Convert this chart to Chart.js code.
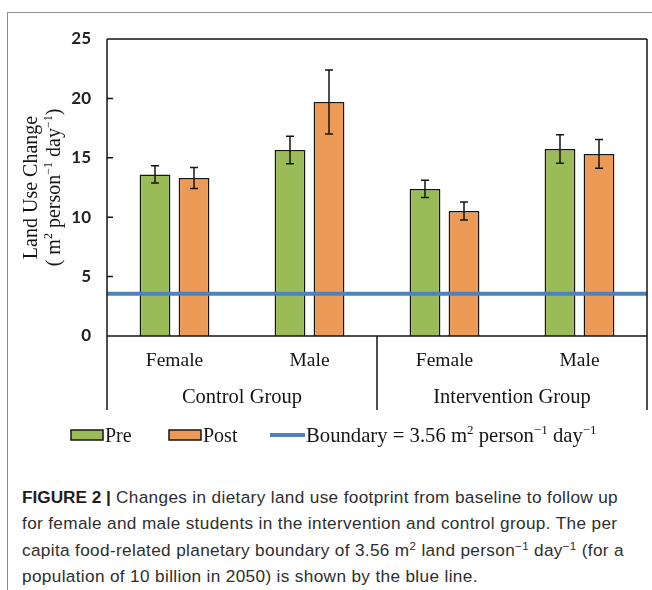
<!DOCTYPE html>
<html>
<head>
<meta charset="utf-8">
<script src="https://cdn.jsdelivr.net/npm/chart.js@4/dist/chart.umd.min.js"></script>
<style>
  html, body { margin: 0; padding: 0; background: #fff; }
  body { width: 652px; height: 590px; position: relative; overflow: hidden; }
  #frame { position: absolute; left: 7px; top: 12px; width: 660px; height: 600px;
           border-top: 1.5px solid #8c8c8c; border-left: 1.5px solid #8c8c8c; }
  #chart { position: absolute; left: 0; top: 0; }
  #caption { position: absolute; left: 22px; top: 484px; font-family: "Liberation Sans", Arial, sans-serif;
             font-weight: 400; font-size: 17.2px; letter-spacing: 0.35px; line-height: 26.3px;
             color: #2e2e2e; white-space: nowrap; }
  #caption b { font-weight: 700; color: #1e1e1e; letter-spacing: 0; }
  #caption sup { font-size: 11.5px; line-height: 0; vertical-align: 6px; }
</style>
</head>
<body>
<div id="frame"></div>
<canvas id="chart" width="652" height="450"></canvas>
<div id="caption"><b>FIGURE 2 |</b> Changes in dietary land use footprint from baseline to follow up<br>for female and male students in the intervention and control group. The per<br>capita food-related planetary boundary of 3.56 m<sup>2</sup> land person<sup>−1</sup> day<sup>−1</sup> (for a<br>population of 10 billion in 2050) is shown by the blue line.</div>
<script>
// Land use footprint (m² person⁻¹ day⁻¹) by sex within each study group
const categories = ['Female', 'Male', 'Female', 'Male'];
const groups = ['Control Group', 'Intervention Group'];
const preValues  = [13.6, 15.65, 12.38, 15.75];
const postValues = [13.3, 19.7, 10.52, 15.33];
const preErrors  = [0.73, 1.16, 0.72, 1.2];
const postErrors = [0.88, 2.7, 0.76, 1.22];
const boundary = 3.56;
const boundaryLabel = 'Boundary = 3.56 m² person⁻¹ day⁻¹';
const yTitle = ['Land Use Change', '( m² person⁻¹ day⁻¹)'];
const yMin = 0, yMax = 25, yStep = 5;

const SERIF = '"Liberation Serif", "DejaVu Serif", serif';
const INK = '#151515';
const BOUNDARY_COLOR = '#4f81bd';

// Split a string into normal / superscript runs (², ¹, ⁻)
const SUP = { '²': '2', '¹': '1', '⁻': '−' };
function runs(str) {
  const out = [];
  for (const ch of str) {
    const sup = ch in SUP;
    const t = sup ? SUP[ch] : ch;
    if (out.length && out[out.length - 1].sup === sup) out[out.length - 1].t += t;
    else out.push({ t, sup });
  }
  return out;
}
function drawRich(ctx, str, x, y, size, align) {
  const parts = runs(str);
  const big = size + 'px ' + SERIF, small = Math.round(size * 0.62) + 'px ' + SERIF;
  let w = 0;
  parts.forEach(p => { ctx.font = p.sup ? small : big; p.w = ctx.measureText(p.t).width; w += p.w; });
  let cx = align === 'center' ? x - w / 2 : x;
  ctx.textAlign = 'left';
  ctx.textBaseline = 'alphabetic';
  parts.forEach(p => {
    ctx.font = p.sup ? small : big;
    ctx.fillText(p.t, cx, p.sup ? y - size * 0.38 : y);
    cx += p.w;
  });
  return w;
}

const decor = {
  id: 'decor',
  afterDatasetsDraw(chart) {
    const { ctx, chartArea: a, scales: { y } } = chart;
    ctx.save();
    // planetary boundary reference line across the plot
    const by = y.getPixelForValue(boundary);
    ctx.strokeStyle = BOUNDARY_COLOR;
    ctx.lineWidth = 4;
    ctx.beginPath(); ctx.moveTo(a.left, by); ctx.lineTo(a.right, by); ctx.stroke();

    // error bars
    ctx.strokeStyle = INK;
    ctx.lineWidth = 1.5;
    chart.data.datasets.forEach((ds, i) => {
      if (!ds.errors) return;
      chart.getDatasetMeta(i).data.forEach((bar, j) => {
        const v = ds.data[j], e = ds.errors[j];
        const yt = y.getPixelForValue(v + e), yb = y.getPixelForValue(v - e);
        ctx.beginPath();
        ctx.moveTo(bar.x, yt); ctx.lineTo(bar.x, yb);
        ctx.moveTo(bar.x - 4, yt); ctx.lineTo(bar.x + 4, yt);
        ctx.moveTo(bar.x - 4, yb); ctx.lineTo(bar.x + 4, yb);
        ctx.stroke();
      });
    });
    ctx.restore();
  },
  afterDraw(chart) {
    const { ctx, chartArea: a, scales: { x, y } } = chart;
    const base = y.getPixelForValue(0);
    const lower = base + 74;
    const split = (x.getPixelForValue(1) + x.getPixelForValue(2)) / 2;
    ctx.save();
    ctx.strokeStyle = INK;
    ctx.lineWidth = 1.5;
    ctx.beginPath();
    ctx.moveTo(a.left, a.top); ctx.lineTo(a.right, a.top);
    ctx.moveTo(a.left, a.top); ctx.lineTo(a.left, lower);
    ctx.moveTo(a.right, a.top); ctx.lineTo(a.right, lower);
    ctx.moveTo(a.left, base); ctx.lineTo(a.right, base);
    ctx.moveTo(split, base); ctx.lineTo(split, lower);
    for (let v = yMin; v <= yMax; v += yStep) {
      const py = y.getPixelForValue(v);
      ctx.moveTo(a.left, py); ctx.lineTo(a.left + 6, py);
    }
    ctx.stroke();

    // group labels under the category labels
    ctx.fillStyle = INK;
    ctx.font = '20.5px ' + SERIF;
    ctx.textAlign = 'center';
    ctx.textBaseline = 'middle';
    const gx = [(x.getPixelForValue(0) + x.getPixelForValue(1)) / 2,
                (x.getPixelForValue(2) + x.getPixelForValue(3)) / 2];
    groups.forEach((g, i) => ctx.fillText(g, gx[i], base + 62));

    // y-axis title, two rotated lines
    const cy = (a.top + a.bottom) / 2;
    [30, 53].forEach((tx, i) => {
      ctx.save();
      ctx.translate(tx, cy);
      ctx.rotate(-Math.PI / 2);
      drawRich(ctx, yTitle[i], 0, 7, 20, 'center');
      ctx.restore();
    });

    // legend
    const ly = 435;
    const ds = chart.data.datasets;
    [{ ds: ds[0], x: 71 }, { ds: ds[1], x: 169 }].forEach(it => {
      ctx.fillStyle = it.ds.backgroundColor;
      ctx.fillRect(it.x, ly - 5, 32, 10);
      ctx.strokeStyle = it.ds.borderColor;
      ctx.lineWidth = 1.5;
      ctx.strokeRect(it.x, ly - 5, 32, 10);
      ctx.fillStyle = INK;
      drawRich(ctx, it.ds.label, it.x + 34, ly + 7, 20, 'left');
    });
    ctx.strokeStyle = BOUNDARY_COLOR;
    ctx.lineWidth = 4;
    ctx.beginPath(); ctx.moveTo(270, ly); ctx.lineTo(305, ly); ctx.stroke();
    ctx.fillStyle = INK;
    drawRich(ctx, boundaryLabel, 306, ly + 7, 20.7, 'left');
    ctx.restore();
  }
};

new Chart(document.getElementById('chart'), {
  type: 'bar',
  data: {
    labels: categories,
    datasets: [
      { label: 'Pre', data: preValues, errors: preErrors, backgroundColor: '#9bbb59',
        borderColor: INK, borderWidth: 1.5 },
      { label: 'Post', data: postValues, errors: postErrors, backgroundColor: '#ec9a55',
        borderColor: INK, borderWidth: 1.5 }
    ]
  },
  options: {
    responsive: false,
    animation: false,
    categoryPercentage: 0.578,
    barPercentage: 0.79,
    layout: { padding: { top: 39, right: 5, left: 0, bottom: 0 } },
    plugins: { legend: { display: false }, tooltip: { enabled: false } },
    scales: {
      x: {
        grid: { display: false, drawTicks: false },
        border: { display: false },
        ticks: { font: { family: SERIF, size: 19.5 }, color: INK, padding: 13 },
        afterFit(s) { s.height = 114; }
      },
      y: {
        min: yMin, max: yMax,
        ticks: { stepSize: yStep, font: { family: 'Lato, "Open Sans", sans-serif', size: 17, weight: 'bold' },
                 color: '#222', padding: 16 },
        grid: { display: false, drawTicks: false },
        border: { display: false },
        afterFit(s) { s.width = 107; }
      }
    }
  },
  plugins: [decor]
});
</script>
</body>
</html>
